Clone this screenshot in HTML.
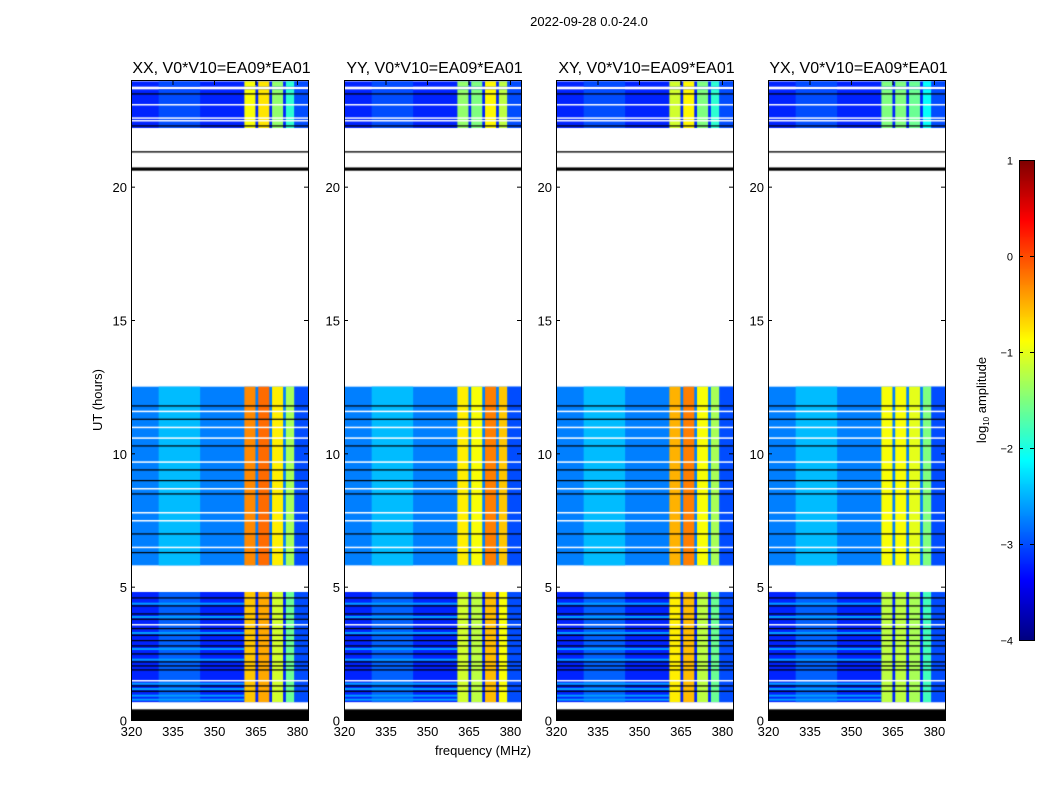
<!DOCTYPE html>
<html><head><meta charset="utf-8"><style>
body{margin:0;background:#fff;width:1050px;height:800px;overflow:hidden;position:relative;font-family:"Liberation Sans",sans-serif}
canvas{position:absolute}
svg{position:absolute;left:0;top:0}
</style></head><body>
<canvas id="c0" width="177" height="640" style="left:131px;top:80px"></canvas>
<canvas id="c1" width="177" height="640" style="left:344px;top:80px"></canvas>
<canvas id="c2" width="177" height="640" style="left:556px;top:80px"></canvas>
<canvas id="c3" width="177" height="640" style="left:768px;top:80px"></canvas>
<canvas id="cb" width="15" height="480" style="left:1019px;top:160px"></canvas>
<svg id="ov" width="1050" height="800"></svg>
<script>
// ---- data ----
const panelTitles = ["XX, V0*V10=EA09*EA01","YY, V0*V10=EA09*EA01","XY, V0*V10=EA09*EA01","YX, V0*V10=EA09*EA01"];
const xTicks = [320,335,350,365,380];
const yTicks = [0,5,10,15,20];
const cbTicks = [-4,-3,-2,-1,0,1];
// time blocks
const blockStart = [0.67, 5.8, 22.2, 23.75];
const blockEnd   = [4.8, 12.5, 23.65, 23.95];
const blockBg    = [-3.2, -2.75, -3.2, -3.2];
const blockStreak= [-2.9, -2.45, -3.0, -3.0];
const blockRfi   = [-0.3, 0.0, -0.6, -0.6];
// cyan-ish rows in lower block (hours)
const cyanRows = [0.8,0.95,1.2,1.4,2.3,2.7,3.3,3.9,4.4];
// RFI frequency bands (MHz)
const bandStart = [361, 366, 371, 376];
const bandEnd   = [365, 370, 375, 379];
const bandLevel = [
  [-0.3,-0.15,-0.8,-1.3],
  [-0.8,-0.9,-0.25,-0.6],
  [-0.5,-0.25,-0.9,-1.3],
  [-0.9,-0.9,-1.0,-1.5]];
const blackBands = [[0,0.4],[20.6,20.72],[21.28,21.33]];
const blackRows = [1.1,1.3,1.9,2.05,2.2,2.5,2.8,3.0,3.2,3.45,3.8,4.0,4.3,4.6,6.3,7.0,8.5,9.0,9.4,10.3,11.3,11.8,23.5,22.3];
const whiteRows = [1.5,3.6,6.5,7.5,7.8,8.7,9.7,10.6,11.0,11.6,23.1,22.6,22.5];
// ---- scales ----
const F0=320,F1=384,T0=0,T1=24,W=177,H=640;
const fx=f=>(f-F0)/(F1-F0)*W, ty=t=>H-(t-T0)/(T1-T0)*H;
function jet(v){v=Math.max(0,Math.min(1,v));
 const r=Math.max(0,Math.min(1,1.5-Math.abs(4*v-3))),g=Math.max(0,Math.min(1,1.5-Math.abs(4*v-2))),b=Math.max(0,Math.min(1,1.5-Math.abs(4*v-1)));
 return `rgb(${r*255|0},${g*255|0},${b*255|0})`;}
const lv=l=>jet((l+4)/5);
for(let p=0;p<4;p++){
 const ctx=document.getElementById('c'+p).getContext('2d');
 for(let b=0;b<blockStart.length;b++){
  const y0=ty(blockEnd[b]),y1=ty(blockStart[b]);
  ctx.fillStyle=lv(blockBg[b]);ctx.fillRect(0,y0,W,y1-y0);
  ctx.fillStyle=lv(blockStreak[b]);ctx.fillRect(fx(330),y0,fx(345)-fx(330),y1-y0);
  if(b==0){ctx.fillStyle=lv(-2.6);cyanRows.forEach(t=>ctx.fillRect(0,ty(t),fx(361),2));}
  ctx.fillStyle=lv(-3.0);ctx.fillRect(fx(379),y0,W-fx(379),y1-y0);
  for(let k=0;k<bandStart.length;k++){
   ctx.fillStyle=lv(bandLevel[p][k]+blockRfi[b]);
   ctx.fillRect(fx(bandStart[k]),y0,fx(bandEnd[k])-fx(bandStart[k]),y1-y0);
  }
 }
 ctx.fillStyle='#000';
 blackBands.forEach(([a,c])=>ctx.fillRect(0,ty(c),W,ty(a)-ty(c)));
 blackRows.forEach(t=>ctx.fillRect(0,ty(t),W,1.2));
 ctx.fillStyle='#fff';
 whiteRows.forEach(t=>ctx.fillRect(0,ty(t),W,1.5));
}
const cb=document.getElementById('cb').getContext('2d');
for(let i=0;i<480;i++){cb.fillStyle=jet(1-i/480);cb.fillRect(0,i,15,1);}
// ---- overlay ----
const ov=document.getElementById('ov');const NS='http://www.w3.org/2000/svg';
function mk(tag,at,txt){const e=document.createElementNS(NS,tag);for(const k in at)e.setAttribute(k,at[k]);if(txt!=null)e.textContent=txt;ov.appendChild(e);return e;}
const lefts=[131,344,556,768];
lefts.forEach((L,p)=>{
 const g=mk('rect',{x:L+0.5,y:80.5,width:W,height:H,fill:'none',stroke:'#000'});
 
 
 const t=mk('text',{x:L+W/2+2,y:73,'font-size':16,'text-anchor':'middle'},panelTitles[p]);
 
 
 xTicks.forEach(f=>{const x=L+fx(f)+0.5;
  mk('line',{x1:x,x2:x,y1:720,y2:716,stroke:'#000'});mk('line',{x1:x,x2:x,y1:81,y2:85,stroke:'#000'});
  const l=mk('text',{x:x,y:736,'font-size':13,'text-anchor':'middle'},f);
  
  });
 yTicks.forEach(v=>{const y=80+ty(v)+0.5;
  mk('line',{x1:L,x2:L+4,y1:y,y2:y,stroke:'#000'});mk('line',{x1:L+W,x2:L+W-4,y1:y,y2:y,stroke:'#000'});
  const l=mk('text',{x:L-4,y:y+5,'font-size':13,'text-anchor':'end'},v);
  
  });
});
mk('rect',{x:1019.5,y:160.5,width:15,height:480,fill:'none',stroke:'#000'});
cbTicks.forEach(v=>{const y=160+(1-v)/5*480+0.5;
 mk('line',{x1:1019,x2:1023,y1:y,y2:y,stroke:'#000'});mk('line',{x1:1034,x2:1030,y1:y,y2:y,stroke:'#000'});
 const l=mk('text',{x:1013,y:y+4,'font-size':11,'text-anchor':'end'},v==0?'0':(v<0?'\u2212'+(-v):v));
 
 });
const st=mk('text',{x:589,y:26,'font-size':13,'text-anchor':'middle'},'2022-09-28 0.0-24.0');


const xl=mk('text',{x:483,y:755,'font-size':13,'text-anchor':'middle'},'frequency (MHz)');


const yl=mk('text',{x:102,y:400,'font-size':13,'text-anchor':'middle',transform:'rotate(-90 102 400)'},'UT (hours)');


const cl=mk('text',{x:986,y:400,'font-size':13,'text-anchor':'middle',transform:'rotate(-90 986 400)'});


cl.innerHTML='log<tspan font-size="8" dy="3">10</tspan><tspan dy="-3"> amplitude</tspan>';
</script>
</body></html>
